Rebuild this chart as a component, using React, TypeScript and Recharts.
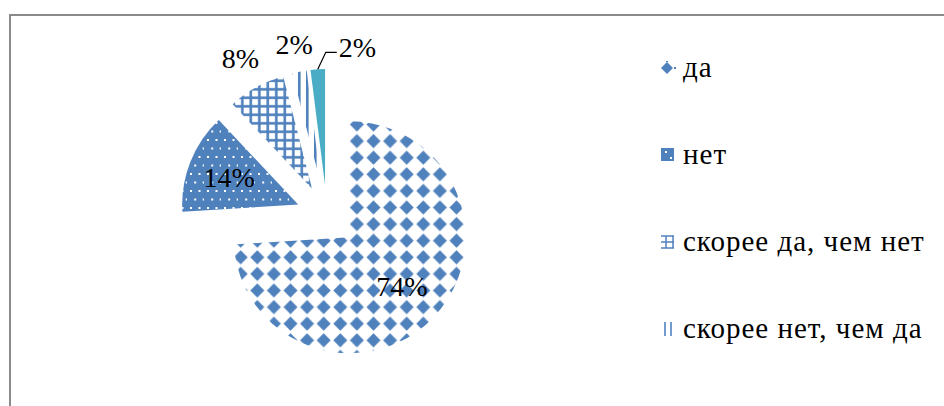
import { PieChart, Pie, Cell, Legend, Sector } from 'recharts';

const categories = ['да', 'нет', 'скорее да, чем нет', 'скорее нет, чем да', 'затрудняюсь ответить'];
const shares = [74, 14, 8, 2, 2];
const fills = ['url(#patDiamond)', 'url(#patDots)', 'url(#patGrid)', 'url(#patVert)', '#4BACC6'];
// the legend box in the reference only shows its first four entries
const legendShown = 4;

const data = categories.map((name, i) => ({ name, value: shares[i] }));

const BLUE = '#4F81BD';
const RAD = Math.PI / 180;
const EXPLODE = 31;
const FONT = '"Liberation Serif", "DejaVu Serif", "Times New Roman", serif';
// radial position of each percent label, as a share of the radius
const LABEL_R = [0.62, 0.64, 1.28, 1.24, 1];

const renderSlice = (p: any) => {
  const { cx, cy, midAngle, outerRadius, startAngle, endAngle, index, percent } = p;
  const ux = Math.cos(-midAngle * RAD);
  const uy = Math.sin(-midAngle * RAD);
  const vx = cx + EXPLODE * ux;
  const vy = cy + EXPLODE * uy;
  const text = `${Math.round(percent * 100)}%`;
  const fontStyle = { fontFamily: FONT, fontSize: 28 };

  let label;
  if (index === 4) {
    // leader line for the last small slice
    const ox = vx + outerRadius * ux;
    const oy = vy + outerRadius * uy;
    const ex = ox + 8;
    const ey = oy - 17;
    label = (
      <g>
        <polyline points={`${ox},${oy} ${ex},${ey} ${ex + 11},${ey}`} fill="none" stroke="#000" strokeWidth={1.2} />
        <text x={ex + 13} y={ey - 5} textAnchor="start" dominantBaseline="central" fill="#000" style={fontStyle}>
          {text}
        </text>
      </g>
    );
  } else {
    const lr = outerRadius * LABEL_R[index];
    label = (
      <text x={vx + lr * ux} y={vy + lr * uy} textAnchor="middle" dominantBaseline="central" fill="#000" style={fontStyle}>
        {text}
      </text>
    );
  }

  return (
    <g key={`slice-${index}`}>
      <Sector
        cx={vx}
        cy={vy}
        innerRadius={0}
        outerRadius={outerRadius}
        startAngle={startAngle}
        endAngle={endAngle}
        fill={fills[index]}
        stroke="none"
      />
      {label}
    </g>
  );
};

const Marker = ({ index }: { index: number }) => {
  if (index === 0) {
    return (
      <svg width={16} height={14}>
        <path d="M7 1 L13 7 L7 13 L1 7 Z" fill={BLUE} />
        <rect x={14} y={6} width={2} height={2} fill={BLUE} />
        <rect x={6} y={0} width={2} height={1} fill={BLUE} />
      </svg>
    );
  }
  if (index === 1) {
    return (
      <svg width={16} height={14}>
        <rect x={1} y={0} width={13} height={13} fill={BLUE} />
        <rect x={5} y={3} width={2} height={2} fill="#fff" />
        <rect x={10} y={9} width={2} height={2} fill="#fff" />
      </svg>
    );
  }
  if (index === 2) {
    return (
      <svg width={16} height={14}>
        <g stroke={BLUE} strokeWidth={1.5} fill="none">
          <line x1={1} y1={1} x2={14} y2={1} />
          <line x1={1} y1={7} x2={14} y2={7} />
          <line x1={1} y1={13} x2={14} y2={13} />
          <line x1={6} y1={1} x2={6} y2={13} />
          <line x1={13} y1={1} x2={13} y2={13} />
        </g>
      </svg>
    );
  }
  return (
    <svg width={16} height={14}>
      <g stroke={BLUE} strokeWidth={1.6}>
        <line x1={5} y1={0} x2={5} y2={14} />
        <line x1={11} y1={0} x2={11} y2={14} />
      </g>
    </svg>
  );
};

const renderLegend = () => (
  <div style={{ fontFamily: FONT, fontSize: 29, letterSpacing: 1, color: '#000' }}>
    {categories.slice(0, legendShown).map((name, i) => (
      <div key={`leg-${i}`} style={{ height: 87, display: 'flex', alignItems: 'center' }}>
        <span style={{ width: 23, display: 'inline-flex', alignItems: 'center' }}>
          <Marker index={i} />
        </span>
        <span style={{ whiteSpace: 'nowrap' }}>{name}</span>
      </div>
    ))}
  </div>
);

export default function App() {
  return (
    <div style={{ position: 'fixed', left: 0, top: 0, width: 944, height: 406, overflow: 'hidden', background: '#fff' }}>
      <svg width={0} height={0} style={{ position: 'absolute' }}>
        <defs>
          <pattern id="patDiamond" patternUnits="userSpaceOnUse" width={16.6} height={16.6}>
            <rect width={16.6} height={16.6} fill="#fff" />
            <path d="M8.3 1.3 L15.3 8.3 L8.3 15.3 L1.3 8.3 Z" fill={BLUE} />
          </pattern>
          <pattern id="patDots" patternUnits="userSpaceOnUse" width={17} height={17}>
            <rect width={17} height={17} fill={BLUE} />
            <rect x={3} y={3} width={2} height={2} fill="#fff" />
            <rect x={11.5} y={3} width={2} height={2} fill="#fff" />
            <rect x={7.2} y={11.5} width={2} height={2} fill="#fff" />
            <rect x={15.7} y={11.5} width={2} height={2} fill="#fff" />
          </pattern>
          <pattern id="patGrid" patternUnits="userSpaceOnUse" width={8.5} height={8.5}>
            <rect width={8.5} height={8.5} fill="#fff" />
            <rect x={0} y={3} width={8.5} height={2.6} fill={BLUE} />
            <rect x={3} y={0} width={2.6} height={8.5} fill={BLUE} />
          </pattern>
          <pattern id="patVert" patternUnits="userSpaceOnUse" width={8} height={8}>
            <rect width={8} height={8} fill="#fff" />
            <rect x={2} y={0} width={2.6} height={8} fill={BLUE} />
          </pattern>
        </defs>
      </svg>
      <div
        style={{
          position: 'absolute',
          left: 9,
          top: 14,
          width: 1000,
          height: 500,
          borderLeft: '2px solid #8a8a8a',
          borderTop: '2px solid #8a8a8a',
        }}
      />
      <div style={{ position: 'absolute', left: 0, top: 0 }}>
        <PieChart width={944} height={406} margin={{ top: 0, right: 0, bottom: 0, left: 0 }}>
          <Pie
            data={data}
            dataKey="value"
            nameKey="name"
            cx={327}
            cy={216}
            outerRadius={116}
            startAngle={90}
            endAngle={-270}
            stroke="none"
            label={renderSlice}
            labelLine={false}
            isAnimationActive={false}
          >
            {data.map((d) => (
              <Cell key={d.name} fill="transparent" />
            ))}
          </Pie>
          <Legend
            content={renderLegend}
            wrapperStyle={{ position: 'absolute', left: 660, top: 24, width: 284 }}
          />
        </PieChart>
      </div>
    </div>
  );
}
